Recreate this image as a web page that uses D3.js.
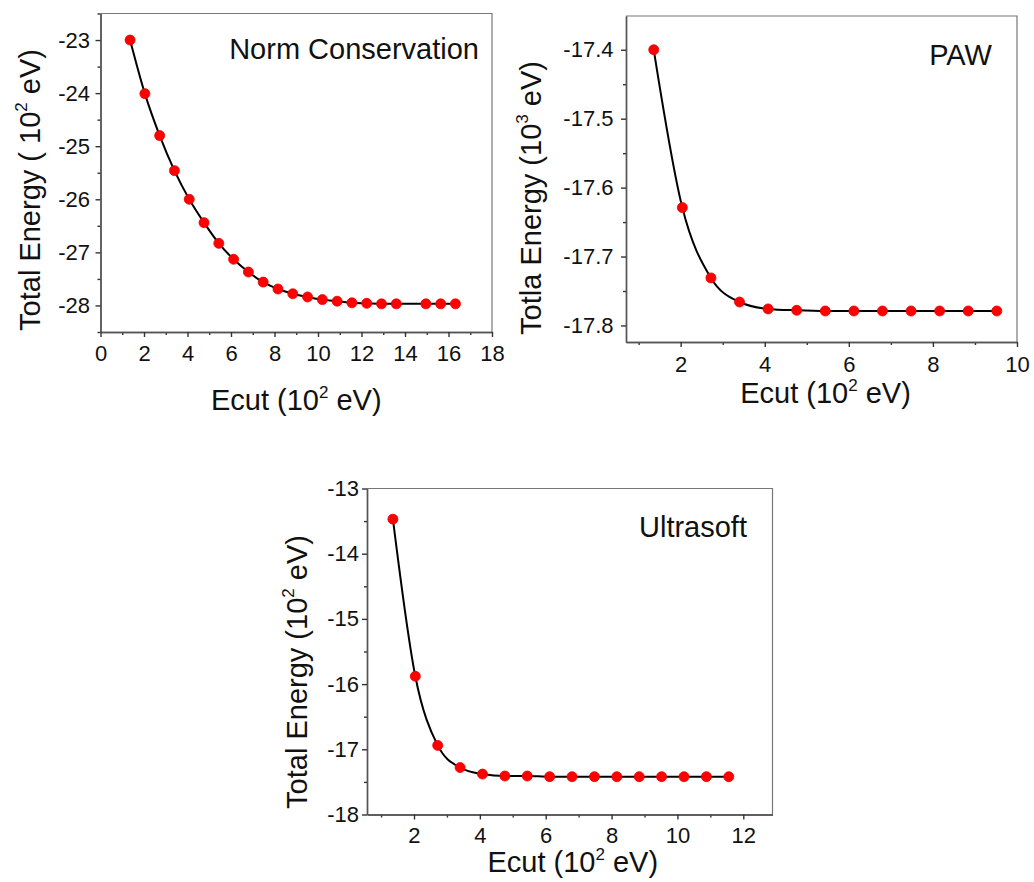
<!DOCTYPE html>
<html>
<head>
<meta charset="utf-8">
<script src="https://cdn.jsdelivr.net/npm/d3@7"></script>
<style>
  html, body { margin: 0; padding: 0; background: #fff; }
  svg text { font-family: "Liberation Sans", Arial, sans-serif; fill: #111; }
</style>
</head>
<body>
<svg id="fig" width="1034" height="882"></svg>
<script>
// Cut-off energies in units of 10^2 eV (10 Ry steps of 5 Ry)
const ecutNC = [1.36, 2.04, 2.72, 3.40, 4.08, 4.76, 5.44, 6.12, 6.80, 7.48, 8.16, 8.84,
                9.52, 10.20, 10.88, 11.56, 12.24, 12.92, 13.60, 14.96, 15.64, 16.32];
const energyNC = [-23.00, -24.01, -24.80, -25.46, -26.00, -26.44, -26.83, -27.13, -27.37,
                  -27.56, -27.69, -27.78, -27.84, -27.89, -27.92, -27.95, -27.96, -27.97,
                  -27.97, -27.97, -27.97, -27.97];

const ecutPAW = [1.36, 2.04, 2.72, 3.40, 4.08, 4.76, 5.44, 6.12, 6.80, 7.48, 8.16, 8.84, 9.52];
const energyPAW = [-17.400, -17.629, -17.731, -17.766, -17.776, -17.778, -17.779, -17.779,
                   -17.779, -17.779, -17.779, -17.779, -17.779];

const ecutUS = [1.36, 2.04, 2.72, 3.40, 4.08, 4.76, 5.44, 6.12, 6.80, 7.48, 8.16, 8.84,
                9.52, 10.20, 10.88, 11.56];
const energyUS = [-13.47, -15.88, -16.94, -17.28, -17.38, -17.41, -17.41, -17.42, -17.42,
                  -17.42, -17.42, -17.42, -17.42, -17.42, -17.42, -17.42];

// Tick values
const xTicksNC = [0, 2, 4, 6, 8, 10, 12, 14, 16, 18];
const xMinorNC = [1, 3, 5, 7, 9, 11, 13, 15, 17];
const yTicksNC = [-28, -27, -26, -25, -24, -23];
const yMinorNC = [-28.5, -27.5, -26.5, -25.5, -24.5, -23.5, -22.5];

const xTicksPAW = [2, 4, 6, 8, 10];
const xMinorPAW = [1, 3, 5, 7, 9];
const yTicksPAW = [-17.8, -17.7, -17.6, -17.5, -17.4];
const yMinorPAW = [-17.75, -17.65, -17.55, -17.45];

const xTicksUS = [2, 4, 6, 8, 10, 12];
const xMinorUS = [1, 3, 5, 7, 9, 11];
const yTicksUS = [-18, -17, -16, -15, -14, -13];
const yMinorUS = [-17.5, -16.5, -15.5, -14.5, -13.5];

const svg = d3.select("#fig");

function drawPanel(p) {
  const x = d3.scaleLinear().domain(p.xDomain).range([p.left, p.right]);
  const y = d3.scaleLinear().domain(p.yDomain).range([p.bottom, p.top]);
  const g = svg.append("g");

  // top / right frame
  g.append("path")
    .attr("d", `M${p.left},${p.top}H${p.right}V${p.bottom}`)
    .attr("fill", "none").attr("stroke", "#777").attr("stroke-width", 1.2);

  const styleAxis = sel => {
    sel.select(".domain").attr("stroke", "#555").attr("stroke-width", 1.4);
    sel.selectAll(".tick line").attr("stroke", "#333").attr("stroke-width", 1.4);
    sel.selectAll(".tick text").attr("font-size", 22).attr("fill", "#111")
      .attr("font-family", "Liberation Sans, Arial, sans-serif");
  };

  // minor ticks
  g.append("g").attr("transform", `translate(0,${p.bottom})`)
    .call(d3.axisBottom(x).tickValues(p.xMinor).tickFormat("").tickSize(3).tickSizeOuter(0))
    .call(styleAxis);
  g.append("g").attr("transform", `translate(${p.left},0)`)
    .call(d3.axisLeft(y).tickValues(p.yMinor).tickFormat("").tickSize(3).tickSizeOuter(0))
    .call(styleAxis);

  // major ticks
  g.append("g").attr("transform", `translate(0,${p.bottom})`)
    .call(d3.axisBottom(x).tickValues(p.xTicks).tickFormat(d3.format("d"))
      .tickSize(5).tickSizeOuter(0).tickPadding(p.xPad))
    .call(styleAxis);
  g.append("g").attr("transform", `translate(${p.left},0)`)
    .call(d3.axisLeft(y).tickValues(p.yTicks).tickFormat(p.yFormat)
      .tickSize(5).tickSizeOuter(0).tickPadding(p.yPad))
    .call(styleAxis);
  g.selectAll(".tick text").each(function () {
    const t = d3.select(this);
    t.text(t.text().replace("\u2212", "-"));
  });

  // smooth line through the points
  const pts = p.xs.map((v, i) => [v, p.ys[i]]);
  const line = d3.line().x(d => x(d[0])).y(d => y(d[1])).curve(d3.curveMonotoneX);
  g.append("path").datum(pts).attr("d", line)
    .attr("fill", "none").attr("stroke", "#000").attr("stroke-width", 2);

  g.selectAll("circle.pt").data(pts).join("circle")
    .attr("class", "pt")
    .attr("cx", d => x(d[0])).attr("cy", d => y(d[1]))
    .attr("r", 5).attr("fill", "#f00").attr("stroke", "#e00").attr("stroke-width", 0.8);

  // x title
  const xt = g.append("text")
    .attr("x", (p.left + p.right) / 2 + p.xTitleDx).attr("y", p.xTitleY)
    .attr("text-anchor", "middle").attr("font-size", 29);
  xt.append("tspan").text("Ecut (10");
  xt.append("tspan").attr("font-size", 17).attr("dy", -12).text("2");
  xt.append("tspan").attr("dy", 12).text(" eV)");

  // y title
  const yt = g.append("text")
    .attr("transform", `translate(${p.yTitleX},${p.yTitleCy}) rotate(-90)`)
    .attr("text-anchor", "middle").attr("font-size", 29);
  yt.append("tspan").text(p.yTitle[0]);
  yt.append("tspan").attr("font-size", 17).attr("dy", -13).text(p.yTitle[1]);
  yt.append("tspan").attr("dy", 13).text(p.yTitle[2]);

  // panel label
  g.append("text").attr("x", p.labelX).attr("y", p.labelY)
    .attr("text-anchor", "end").attr("font-size", 29).text(p.label);
}

drawPanel({
  left: 100.5, right: 492, top: 13.5, bottom: 332,
  xDomain: [0, 18], yDomain: [-28.5, -22.5],
  xTicks: xTicksNC, xMinor: xMinorNC, yTicks: yTicksNC, yMinor: yMinorNC,
  yFormat: d3.format("d"), xPad: 8.5, yPad: 5.5,
  xs: ecutNC, ys: energyNC,
  xTitleDx: 0, xTitleY: 410,
  yTitleX: 40, yTitleCy: 190, yTitle: ["Total Energy ( 10", "2", " eV)"],
  label: "Norm Conservation", labelX: 479, labelY: 59
});

drawPanel({
  left: 626, right: 1017, top: 16, bottom: 342,
  xDomain: [0.7, 10], yDomain: [-17.824, -17.351],
  xTicks: xTicksPAW, xMinor: xMinorPAW, yTicks: yTicksPAW, yMinor: yMinorPAW,
  yFormat: d3.format(".1f"), xPad: 9, yPad: 7.5,
  xs: ecutPAW, ys: energyPAW,
  xTitleDx: 4, xTitleY: 403,
  yTitleX: 541, yTitleCy: 198, yTitle: ["Totla Energy (10", "3", " eV)"],
  label: "PAW", labelX: 992, labelY: 65
});

drawPanel({
  left: 367, right: 772.5, top: 488.5, bottom: 814.5,
  xDomain: [0.573, 12.887], yDomain: [-18, -13],
  xTicks: xTicksUS, xMinor: xMinorUS, yTicks: yTicksUS, yMinor: yMinorUS,
  yFormat: d3.format("d"), xPad: 7.5, yPad: 3,
  xs: ecutUS, ys: energyUS,
  xTitleDx: 3, xTitleY: 872,
  yTitleX: 307, yTitleCy: 672, yTitle: ["Total Energy (10", "2", " eV)"],
  label: "Ultrasoft", labelX: 747, labelY: 537
});
</script>
</body>
</html>
